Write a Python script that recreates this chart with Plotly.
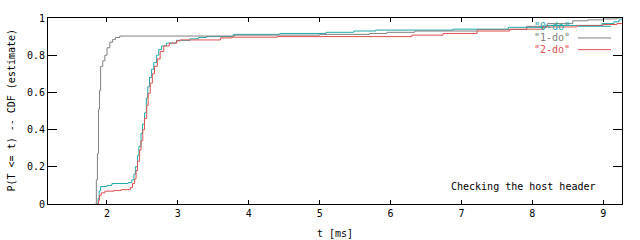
import plotly.graph_objects as go

# ---- data ----
t_1do = [1.835, 1.85, 1.865, 1.88, 1.895, 1.91, 1.94, 1.97, 2.00, 2.04, 2.08, 2.12, 2.18,
         3.80, 5.00, 5.70, 5.95, 6.34, 7.22, 7.92, 8.21, 8.57, 8.78, 9.00, 9.19, 9.27]
p_1do = [0.0, 0.13, 0.27, 0.51, 0.61, 0.74, 0.77, 0.80, 0.84, 0.87, 0.885, 0.895, 0.903,
         0.908, 0.912, 0.917, 0.923, 0.93, 0.938, 0.955, 0.97, 0.985, 0.99, 0.995, 1.0, 1.0]

t_0do = [1.86, 1.875, 1.89, 1.91, 2.00, 2.07, 2.30, 2.35, 2.38, 2.40, 2.43, 2.45, 2.48, 2.50,
         2.53, 2.555, 2.575, 2.60, 2.63, 2.66, 2.70, 2.73, 2.77, 2.84, 2.98, 3.17, 3.29, 3.40,
         3.78, 4.44, 5.09, 5.48, 5.79, 6.88, 7.66, 8.20, 8.98, 9.15, 9.22, 9.27]
p_0do = [0.0, 0.03, 0.07, 0.094, 0.10, 0.11, 0.115, 0.13, 0.16, 0.20, 0.26, 0.31, 0.38, 0.43,
         0.49, 0.57, 0.63, 0.68, 0.725, 0.76, 0.80, 0.83, 0.85, 0.865, 0.88, 0.888, 0.895, 0.90,
         0.912, 0.917, 0.923, 0.93, 0.935, 0.94, 0.95, 0.96, 0.97, 0.98, 0.99, 0.99]

t_2do = [1.865, 1.88, 1.895, 1.92, 1.97, 2.10, 2.20, 2.33, 2.36, 2.39, 2.41, 2.43, 2.46, 2.48,
         2.505, 2.53, 2.56, 2.58, 2.61, 2.64, 2.67, 2.71, 2.75, 2.80, 2.88, 2.98, 3.03, 3.60,
         3.76, 4.40, 6.30, 6.74, 7.22, 7.68, 8.15, 8.63, 9.00, 9.19, 9.27]
p_2do = [0.0, 0.02, 0.047, 0.06, 0.069, 0.073, 0.077, 0.089, 0.11, 0.135, 0.18, 0.23, 0.29, 0.34,
         0.40, 0.46, 0.53, 0.595, 0.65, 0.70, 0.74, 0.78, 0.82, 0.85, 0.865, 0.877, 0.882, 0.893,
         0.897, 0.90, 0.908, 0.917, 0.93, 0.94, 0.952, 0.96, 0.965, 0.97, 0.97]

x_ticks = [2, 3, 4, 5, 6, 7, 8, 9]
y_ticks = [0, 0.2, 0.4, 0.6, 0.8, 1]
y_tick_labels = ["0", "0.2", "0.4", "0.6", "0.8", "1"]

series_names = ['"0-do"', '"1-do"', '"2-do"']
series_colors = ["#20a8a8", "#808080", "#e05050"]

FONT = "DejaVu Sans Mono"

fig = go.Figure()
for (t, p), name, col in zip([(t_0do, p_0do), (t_1do, p_1do), (t_2do, p_2do)],
                             series_names, series_colors):
    fig.add_trace(go.Scatter(x=t, y=p, mode="lines", line=dict(color=col, width=1, shape="hv"),
                             name=name, showlegend=False))

W, H = 640, 240
L, R, T, B = 48, 18, 13, 36
pw, ph = W - L - R, H - T - B

def px2paper_x(px):
    return (px - L) / pw

def px2paper_y(py):
    return (H - B - py) / ph

annotations = []
shapes = []
# manual gnuplot-like key
for i, (name, col) in enumerate(zip(series_names, series_colors)):
    ypx = 21.5 + 12 * i
    annotations.append(dict(x=px2paper_x(572), y=px2paper_y(ypx), xref="paper", yref="paper",
                            text=name, showarrow=False, xanchor="right", yanchor="middle",
                            font=dict(family=FONT, size=10, color=col)))
    shapes.append(dict(type="line", xref="paper", yref="paper",
                       x0=px2paper_x(578), x1=px2paper_x(611),
                       y0=px2paper_y(ypx), y1=px2paper_y(ypx),
                       line=dict(color=col, width=1)))

annotations.append(dict(x=px2paper_x(598), y=px2paper_y(186), xref="paper", yref="paper",
                        text="Checking the host header", showarrow=False, xanchor="right",
                        yanchor="middle", font=dict(family=FONT, size=10, color="black")))
annotations.append(dict(x=px2paper_x(335), y=px2paper_y(234), xref="paper", yref="paper",
                        text="t [ms]", showarrow=False, xanchor="center", yanchor="middle",
                        font=dict(family=FONT, size=10, color="black")))
annotations.append(dict(x=px2paper_x(12), y=px2paper_y(108), xref="paper", yref="paper",
                        text="P(T <= t) -- CDF (estimate)", showarrow=False, textangle=-90,
                        xanchor="center", yanchor="middle",
                        font=dict(family=FONT, size=10, color="black")))

fig.update_layout(
    width=W, height=H,
    margin=dict(l=L, r=R, t=T, b=B, pad=0),
    paper_bgcolor="white", plot_bgcolor="white",
    font=dict(family=FONT, size=10, color="black"),
    annotations=annotations, shapes=shapes,
    showlegend=False,
)
fig.update_xaxes(range=[1.168, 9.264], tickvals=x_ticks, ticktext=[str(v) for v in x_ticks],
                 ticks="inside", ticklen=4, tickwidth=1, tickcolor="black",
                 showline=True, linecolor="black", linewidth=1, mirror="ticks",
                 showgrid=False, zeroline=False, tickfont=dict(family=FONT, size=10))
fig.update_yaxes(range=[0, 1], tickvals=y_ticks, ticktext=y_tick_labels,
                 ticks="inside", ticklen=9, tickwidth=1, tickcolor="black",
                 showline=True, linecolor="black", linewidth=1, mirror="ticks",
                 showgrid=False, zeroline=False, tickfont=dict(family=FONT, size=10))

fig.write_html("out.html")
